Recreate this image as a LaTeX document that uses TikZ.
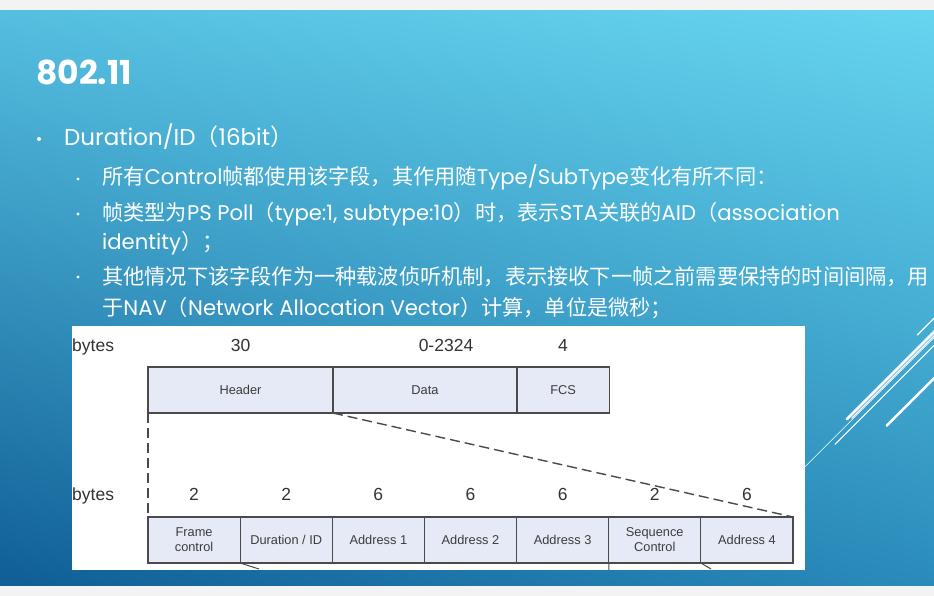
\documentclass[tikz,border=0pt]{standalone}
\usepackage{fontspec}
\setmainfont{Poppins}
\newfontfamily\cjk{Noto Sans CJK SC}
\newfontfamily\arialfont{Liberation Sans}
\usetikzlibrary{positioning, shadings}
\definecolor{skyUL}{HTML}{55BFE0}
\definecolor{skyUR}{HTML}{66D5EF}
\definecolor{skyLL}{HTML}{0F5E95}
\definecolor{skyLR}{HTML}{2A8BBB}
\definecolor{bandgray}{HTML}{F3F3F3}
\definecolor{fldfill}{HTML}{E5EAF6}
\definecolor{fldline}{HTML}{4A4A4A}
\definecolor{fldtext}{HTML}{3C3C3C}
\definecolor{numtext}{HTML}{333333}
\newcommand{\zh}[1]{{\cjk #1}}

\begin{document}
\begin{tikzpicture}[x=1pt, y=-1pt,
  slidetext/.style={text=white, inner sep=0pt, anchor=base west},
  lvlone/.style={slidetext, font=\fontsize{23}{28}\selectfont},
  lvltwo/.style={slidetext, font=\fontsize{21.2}{26}\selectfont},
  bulletdot/.style={circle, fill=white, inner sep=0pt, minimum size=#1},
  fld/.style={draw=fldline, fill=fldfill, line width=1.1pt, outer sep=0pt,
              inner sep=0pt, minimum width=92.14pt, minimum height=46pt,
              align=center, font=\arialfont\fontsize{12.8}{15}\selectfont,
              text=fldtext},
  num/.style={inner sep=0pt, anchor=base, text=numtext,
              font=\arialfont\fontsize{17.5}{20}\selectfont},
  cut/.style={draw=fldline, line width=1.4pt, dash pattern=on 10pt off 5pt},
  deco/.style={draw=white, line cap=round}
]
  \useasboundingbox (0,0) rectangle (934,596);

  % slide background
  \fill[bandgray] (0,0) rectangle (934,11);
  \fill[bandgray] (0,585) rectangle (934,596);
  \shade[upper left=skyUL, upper right=skyUR, lower left=skyLL,
         lower right=skyLR] (0,11) rectangle (934,585);

  % corner strokes
  \draw[deco, line width=1.2pt] (917.3,335) -- (940,312.3);
  \draw[deco, line width=2.5pt] (846.7,419.3) -- (940,326);
  \draw[deco, line width=1.1pt] (851.7,418.3) -- (940,330);
  \draw[deco, line width=1.1pt] (835,444.3) -- (940,339.3);
  \draw[deco, line width=2.5pt] (886.7,425.7) -- (940,372.4);
  \draw[deco, line width=0.6pt] (790,481.7) -- (940,331.7);

  % title and bullets
  \node[slidetext, font=\bfseries\fontsize{33}{36}\selectfont] (title) at (36,85) {802.11};

  \node[bulletdot=4pt] (b1) at (39,139) {};
  \node[lvlone] (dur) at (64,146) {Duration/ID\zh{（}16bit\zh{）}};

  \node[bulletdot=3.4pt] (b2) at (78,179) {};
  \node[lvltwo] (s1) at (102,185)
    {\zh{所有}Control\zh{帧都使用该字段，其作用随}Type/SubType\zh{变化有所不同：}};

  \node[bulletdot=3.4pt] (b3) at (78,214) {};
  \node[lvltwo] (s2) at (102,220)
    {\zh{帧类型为}PS Poll\zh{（}type:1, subtype:10\zh{）时，表示}STA\zh{关联的}AID\zh{（}association};
  \node[lvltwo] (s2b) at (102,249) {identity\zh{）；}};

  \node[bulletdot=3.4pt] (b4) at (78,277) {};
  \node[lvltwo] (s3) at (102,284)
    {\zh{其他情况下该字段作为一种载波侦听机制，表示接收下一帧之前需要保持的时间间隔，用}};
  \node[lvltwo] (s3b) at (102,315)
    {\zh{于}NAV\zh{（}Network Allocation Vector\zh{）计算，单位是微秒；}};

  % frame format picture
  \fill[white] (72,326) rectangle (805,570);

  \node[fld, minimum width=185pt, anchor=north west] (hdr) at (148,367) {Header};
  \node[fld, minimum width=184pt, right=0pt of hdr] (dat) {Data};
  \node[fld, right=0pt of dat] (fcs) {FCS};

  \node[num, anchor=base west] (by1) at (72,351) {bytes};
  \node[num] (n-hdr) at (hdr |- 0,351) {30};
  \node[num] (n-dat) at (446,351) {0-2324};
  \node[num] (n-fcs) at (fcs |- 0,351) {4};

  \node[fld, anchor=north west] (fc) at (148,517) {Frame\\control};
  \node[fld, right=0pt of fc] (dr) {Duration / ID};
  \node[fld, right=0pt of dr] (ad1) {Address 1};
  \node[fld, right=0pt of ad1] (ad2) {Address 2};
  \node[fld, right=0pt of ad2] (ad3) {Address 3};
  \node[fld, right=0pt of ad3] (sq) {Sequence\\Control};
  \node[fld, right=0pt of sq] (ad4) {Address 4};

  \node[num, anchor=base west] (by2) at (72,500) {bytes};
  \node[num] (n-fc) at (fc |- 0,500) {2};
  \node[num] (n-dr) at (dr |- 0,500) {2};
  \node[num] (n-ad1) at (ad1 |- 0,500) {6};
  \node[num] (n-ad2) at (ad2 |- 0,500) {6};
  \node[num] (n-ad3) at (ad3 |- 0,500) {6};
  \node[num] (n-sq) at (sq |- 0,500) {2};
  \node[num] (n-ad4) at (ad4 |- 0,500) {6};

  % header blown up
  \draw[cut] (hdr.south west) -- (fc.north west);
  \draw[cut] (hdr.south east) -- (ad4.north east);

  % cut-off edges of the next level
  \coordinate (cutA) at (259,569);
  \coordinate (cutB) at (609,570);
  \coordinate (cutC) at (711,569);
  \draw[fldline, line width=1pt] (dr.south west) -- (cutA);
  \draw[fldline, line width=1pt] (sq.south west) -- (cutB);
  \draw[fldline, line width=1pt] (ad4.south west) -- (cutC);
\end{tikzpicture}
\end{document}
